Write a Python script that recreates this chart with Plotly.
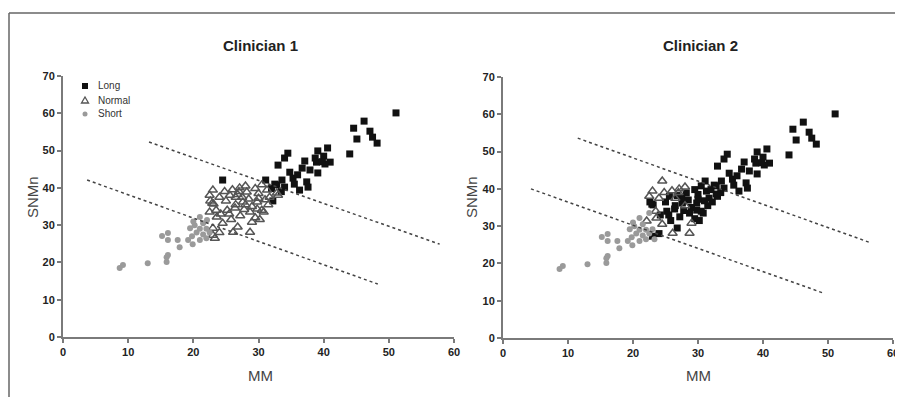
import plotly.graph_objects as go

# ---- data: same patients, categorised by two clinicians ----
mm = [51.1, 46.2, 44.6, 45.1, 47.1, 47.5, 48.2, 44.0, 40.6, 39.1, 34.5, 34.0, 33.0, 37.1, 38.7,
      38.9, 41.0, 40.2, 36.7, 37.9, 39.1, 34.8, 35.3, 37.4, 37.6, 36.3, 33.6, 32.8, 34.0, 35.5,
      36.0, 40.0, 39.8,
      31.1, 30.5, 31.3, 32.8, 31.7, 32.0, 33.0, 32.5, 30.0, 29.5,
      27.1, 28.2, 25.6, 27.6, 29.8, 25.2, 26.4, 28.7, 30.5, 30.8, 29.8, 26.5, 28.0, 27.0,
      23.0, 24.5, 22.9, 23.6, 22.1, 21.0, 23.0, 23.0, 24.0, 23.3, 26.1, 28.7, 26.8, 29.0,
      24.2, 23.1, 22.6, 22.5,
      25.0, 26.0, 27.5, 28.5, 29.0, 26.5, 27.8, 25.5, 24.5, 25.8, 27.2, 29.5, 30.2, 31.5,
      32.2, 33.5, 31.0, 30.0, 28.0, 24.0, 23.5, 22.5, 24.8, 26.8,
      8.7, 9.2, 13.0, 15.9, 15.9, 16.1, 16.1, 15.2, 16.1, 17.6, 17.9, 19.2, 19.9, 20.2, 19.5,
      21.0, 20.5, 21.5, 22.0, 20.0, 21.5, 22.5, 19.8, 21.0, 22.0]
snmn = [60.1, 57.9, 56.0, 53.1, 55.2, 53.6, 52.0, 49.1, 50.7, 49.9, 49.3, 48.0, 46.1, 47.2, 48.0,
        46.9, 46.9, 46.4, 45.3, 44.8, 44.0, 44.2, 42.6, 41.6, 40.2, 39.4, 42.1, 40.8, 40.2, 41.0,
        43.5, 48.5, 47.0,
        42.1, 40.8, 39.4, 38.6, 37.5, 39.8, 38.0, 41.0, 38.5, 39.8,
        40.0, 38.9, 38.0, 36.2, 36.2, 34.0, 34.6, 33.5, 34.0, 33.5, 34.3, 37.5, 35.5, 39.0,
        39.4, 42.1, 35.9, 32.2, 31.4, 32.2, 29.2, 27.3, 28.0, 26.5, 28.1, 28.1, 29.5, 30.8,
        33.0, 35.7, 36.5, 38.0,
        36.5, 39.5, 37.5, 37.0, 35.0, 35.5, 34.2, 33.0, 30.5, 31.5, 32.5, 32.0, 31.5, 35.5,
        36.5, 39.0, 36.8, 37.2, 40.5, 37.5, 34.0, 33.5, 39.0, 38.2,
        18.5, 19.3, 19.8, 21.4, 20.1, 22.0, 27.9, 27.1, 26.0, 26.0, 24.1, 26.0, 24.9, 30.0, 29.2,
        26.0, 28.0, 27.5, 29.0, 31.0, 30.5, 28.0, 27.0, 29.0, 26.5]
cat1 = (["Long"] * 33 +
        ["Long", "Normal", "Normal", "Normal", "Normal", "Long", "Normal", "Long", "Normal", "Normal"] +
        ["Normal"] * 14 +
        ["Normal", "Long", "Normal", "Normal", "Short", "Short", "Normal", "Normal", "Normal", "Normal",
         "Normal", "Normal", "Normal", "Normal", "Normal", "Normal", "Normal", "Normal"] +
        ["Normal"] * 14 + ["Long", "Long", "Normal", "Normal", "Normal", "Normal", "Normal", "Normal",
                           "Normal", "Normal"] +
        ["Short"] * 25)
cat2 = (["Long"] * 33 +
        ["Long"] * 10 +
        ["Normal", "Long", "Long", "Long", "Long", "Long", "Long", "Long", "Long", "Long", "Long",
         "Normal", "Normal", "Normal"] +
        ["Normal", "Normal", "Long", "Normal", "Normal", "Short", "Short", "Long", "Long", "Short",
         "Normal", "Normal", "Long", "Normal", "Long", "Long", "Long", "Normal"] +
        ["Long", "Normal", "Long", "Long", "Long", "Long", "Long", "Long", "Normal", "Long", "Long",
         "Long", "Long", "Long", "Long", "Long", "Long", "Long", "Normal", "Normal", "Normal", "Short",
         "Normal", "Long"] +
        ["Short"] * 25)

# reference dashed lines (x start, x end, y start, y end)
c1_upper_x = [13.2, 57.8]; c1_upper_y = [52.3, 24.9]
c1_lower_x = [3.7, 48.3];  c1_lower_y = [42.1, 14.2]
c2_upper_x = [11.5, 56.3]; c2_upper_y = [53.6, 25.7]
c2_lower_x = [4.3, 49.2];  c2_lower_y = [40.0, 12.1]

titles = ["Clinician 1", "Clinician 2"]
legend_names = ["Long", "Normal", "Short"]
x_ticks = [0, 10, 20, 30, 40, 50, 60]
y_ticks = [0, 10, 20, 30, 40, 50, 60, 70]

styles = {
    "Long": dict(symbol="square", color="#111111", size=7, line=dict(width=0)),
    "Normal": dict(symbol="triangle-up-open", color="#555555", size=8, line=dict(width=1.5, color="#555555")),
    "Short": dict(symbol="circle", color="#9a9a9a", size=6, line=dict(width=0)),
}

W, H = 903, 397
OFF = 8  # page body margin offset
def px(x): return (x - OFF) / W
def py(y): return 1 - (y - OFF) / H

FONT = "Liberation Sans, Arial"
fig = go.Figure()

for i, cats in enumerate([cat1, cat2]):
    xa = "x" if i == 0 else "x2"
    ya = "y" if i == 0 else "y2"
    for name in legend_names:
        xs = [m for m, c in zip(mm, cats) if c == name]
        ys = [s for s, c in zip(snmn, cats) if c == name]
        fig.add_trace(go.Scatter(x=xs, y=ys, mode="markers", name=name, xaxis=xa, yaxis=ya,
                                 marker=styles[name], showlegend=False, cliponaxis=False))
    lines = [(c1_upper_x, c1_upper_y), (c1_lower_x, c1_lower_y)] if i == 0 else \
            [(c2_upper_x, c2_upper_y), (c2_lower_x, c2_lower_y)]
    for lx, ly in lines:
        fig.add_trace(go.Scatter(x=lx, y=ly, mode="lines", xaxis=xa, yaxis=ya, showlegend=False,
                                 line=dict(color="#444444", width=1.5, dash="dot"), hoverinfo="skip"))

axis_common = dict(showgrid=False, zeroline=False, showline=True, linecolor="#7a7a7a", linewidth=2,
                   ticks="outside", ticklen=4, tickwidth=1.5, tickcolor="#7a7a7a",
                   tickfont=dict(family=FONT, size=11, color="#222222", weight="bold"))

fig.update_layout(
    width=W, height=H, margin=dict(l=0, r=0, t=0, b=0, autoexpand=False),
    paper_bgcolor="white", plot_bgcolor="white", showlegend=False,
    xaxis=dict(domain=[px(63), px(454)], range=[0, 60], tickvals=x_ticks, anchor="y", **axis_common),
    yaxis=dict(domain=[py(337), py(76)], range=[0, 70], tickvals=y_ticks, anchor="x", **axis_common),
    xaxis2=dict(domain=[px(503), px(893)], range=[0, 60], tickvals=x_ticks, anchor="y2", **axis_common),
    yaxis2=dict(domain=[py(338), py(77)], range=[0, 70], tickvals=y_ticks, anchor="x2", **axis_common),
)

annos = []
for cx, t in zip([260, 700], titles):
    annos.append(dict(x=px(cx), y=py(45), text="<b>%s</b>" % t,
                      font=dict(family=FONT, size=15, color="#222222")))
for cx in [260, 698]:
    annos.append(dict(x=px(cx), y=py(375), text="MM", font=dict(family=FONT, size=15, color="#444444")))
for cx in [32, 471]:
    annos.append(dict(x=px(cx), y=py(197), text="SNMn", textangle=-90,
                      font=dict(family=FONT, size=15, color="#444444")))
# manual legend text
for name, ly in zip(legend_names, [86, 100, 114]):
    annos.append(dict(x=px(96), y=py(ly), text=name, xanchor="left",
                      font=dict(family=FONT, size=10, color="#333333")))
for a in annos:
    a.setdefault("xanchor", "center")
    a.update(xref="paper", yref="paper", showarrow=False, yanchor="middle")
fig.update_layout(annotations=annos)

shapes = [
    dict(type="line", x0=px(9), x1=1, y0=py(13), y1=py(13), line=dict(color="#666666", width=1.5)),
    dict(type="line", x0=px(9), x1=px(9), y0=py(13), y1=0, line=dict(color="#666666", width=1.5)),
    # legend symbols
    dict(type="rect", x0=px(82), x1=px(88), y0=py(83), y1=py(89), fillcolor="#111111", line=dict(width=0)),
    dict(type="path", path="M %f,%f L %f,%f L %f,%f Z" % (px(81.5), py(103), px(88.5), py(103), px(85), py(97)),
         line=dict(color="#555555", width=1.3)),
    dict(type="circle", x0=px(82.5), x1=px(87.5), y0=py(111.5), y1=py(116.5), fillcolor="#9a9a9a",
         line=dict(width=0)),
]
for s in shapes:
    s.update(xref="paper", yref="paper")
fig.update_layout(shapes=shapes)

fig.write_html("out.html")
